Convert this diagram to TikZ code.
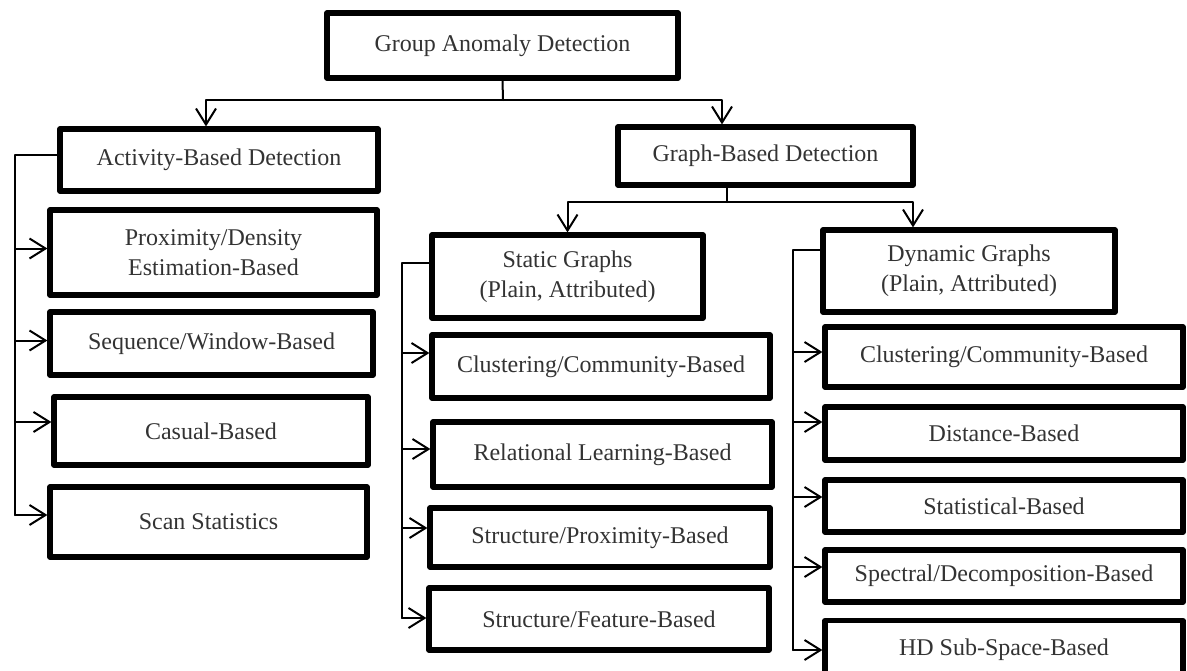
\documentclass[tikz,border=0pt]{standalone}
\usepackage{fontspec}
\setmainfont{Liberation Serif}
\usetikzlibrary{arrows.meta}

\begin{document}
\begin{tikzpicture}[x=0.5pt, y=-0.5pt, line cap=round, line join=round,
    >={Straight Barb[length=8pt,width=10pt]},
    box/.style={draw, line width=2.6pt, inner sep=0pt, align=center,
      text=black!80, font=\fontsize{12}{15}\selectfont},
    conn/.style={line width=1pt}]
    % Page size of the original figure
    \useasboundingbox (0,0) rectangle (1187,670);
    \fill[white] (0,0) rectangle (1187,670);
    \clip (0,0) rectangle (1187,670);

    % Root
    \node[box, minimum width=175.5pt, minimum height=32.5pt] (grp) at (502.5,45.5) {Group Anomaly Detection};

    % Activity branch
    \node[box, minimum width=159pt, minimum height=31pt] (act) at (219,160) {Activity-Based Detection};
    \node[box, minimum width=163.5pt, minimum height=42.5pt] (prox) at (213.5,252.5) {Proximity/Density\\Estimation-Based};
    \node[box, minimum width=161.5pt, minimum height=31.5pt] (seq) at (211.5,343.5) {Sequence/Window-Based};
    \node[box, minimum width=157pt, minimum height=34pt] (cas) at (211,431) {Casual-Based};
    \node[box, minimum width=158.5pt, minimum height=35pt] (scan) at (208.5,522) {Scan Statistics};

    % Graph branch
    \node[box, minimum width=147.5pt, minimum height=29pt] (gbd) at (765.5,156) {Graph-Based Detection};

    % Static graphs
    \node[box, minimum width=135.5pt, minimum height=41.5pt] (stat) at (567.5,276.5) {Static Graphs\\(Plain, Attributed)};
    \node[box, minimum width=169pt, minimum height=31.5pt] (sc1) at (601,366.5) {Clustering/Community-Based};
    \node[box, minimum width=169.5pt, minimum height=32.5pt] (sc2) at (602.5,454.5) {Relational Learning-Based};
    \node[box, minimum width=170pt, minimum height=29.5pt] (sc3) at (600,537.5) {Structure/Proximity-Based};
    \node[box, minimum width=170pt, minimum height=31pt] (sc4) at (599,619) {Structure/Feature-Based};

    % Dynamic graphs
    \node[box, minimum width=146pt, minimum height=41pt] (dyn) at (969,271) {Dynamic Graphs\\(Plain, Attributed)};
    \node[box, minimum width=179pt, minimum height=30pt] (dc1) at (1004,357) {Clustering/Community-Based};
    \node[box, minimum width=179pt, minimum height=26.5pt] (dc2) at (1004,433.5) {Distance-Based};
    \node[box, minimum width=179pt, minimum height=26pt] (dc3) at (1004,506) {Statistical-Based};
    \node[box, minimum width=179pt, minimum height=26pt] (dc4) at (1004,576) {Spectral/Decomposition-Based};
    % last box runs off the bottom of the page
    \node[box, minimum width=179pt, text height=17.5pt, text depth=17.5pt, anchor=north] (dc5) at (1004,618) {HD Sub-Space-Based};

    % Root split
    \coordinate (j0) at (503,100);
    \draw[conn] (grp.south) -- (j0);
    \draw[conn,->] (j0) -| ([xshift=-6.5pt]act.north);
    \draw[conn,->] (j0) -| ([xshift=-21.75pt]gbd.north);

    % Graph split
    \coordinate (j1) at (727,202);
    \draw[conn] ([xshift=-19.25pt]gbd.south) -- (j1);
    \draw[conn,->] (j1) -| (stat.north);
    \draw[conn,->] (j1) -| ([xshift=-28pt]dyn.north);

    % Activity list
    \coordinate (sA) at (15,0);
    \path ([yshift=2.5pt]act.west) coordinate (a0)
          ([yshift=2pt]prox.west) coordinate (a1)
          ([yshift=1.5pt]seq.west) coordinate (a2)
          ([yshift=4.5pt]cas.west) coordinate (a3)
          ([yshift=3.5pt]scan.west) coordinate (a4);
    \draw[conn] (a0) -- (sA |- a0) -- (sA |- a4);
    \foreach \t in {a1,a2,a3,a4}
      \draw[conn,->] (sA |- \t) -- (\t);

    % Static list
    \coordinate (sS) at (402,0);
    \path ([yshift=6.75pt]stat.west) coordinate (s0)
          ([yshift=6.75pt]sc1.west) coordinate (s1)
          ([yshift=2.75pt]sc2.west) coordinate (s2)
          ([yshift=4.75pt]sc3.west) coordinate (s3)
          ([yshift=0.5pt]sc4.west) coordinate (s4);
    \draw[conn] (s0) -- (sS |- s0) -- (sS |- s4);
    \foreach \t in {s1,s2,s3,s4}
      \draw[conn,->] (sS |- \t) -- (\t);

    % Dynamic list
    \coordinate (sD) at (793,0);
    \path ([yshift=10.5pt]dyn.west) coordinate (d0)
          ([yshift=2.5pt]dc1.west) coordinate (d1)
          ([yshift=5.75pt]dc2.west) coordinate (d2)
          ([yshift=4.5pt]dc3.west) coordinate (d3)
          ([yshift=4.5pt]dc4.west) coordinate (d4)
          (dc5.north west |- 0,650) coordinate (d5);
    \draw[conn] (d0) -- (sD |- d0) -- (sD |- d5);
    \foreach \t in {d1,d2,d3,d4,d5}
      \draw[conn,->] (sD |- \t) -- (\t);
\end{tikzpicture}
\end{document}
